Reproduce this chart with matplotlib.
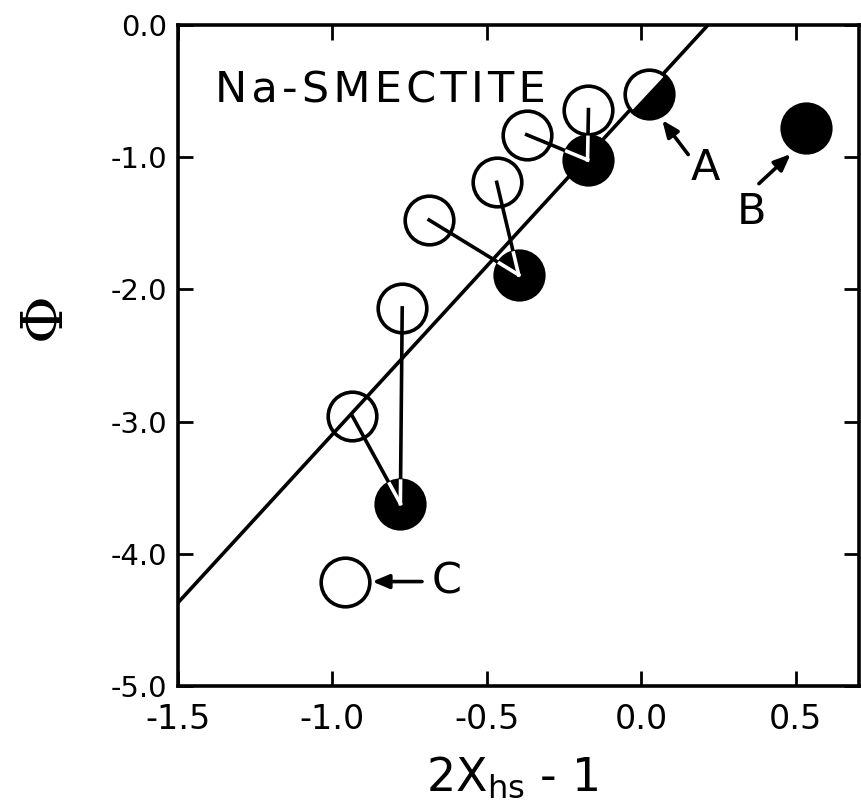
import matplotlib
matplotlib.use("Agg")
import matplotlib.pyplot as plt
from matplotlib.patches import Circle
from matplotlib.markers import MarkerStyle
from matplotlib.transforms import Affine2D, ScaledTranslation

plt.rcParams['axes.unicode_minus'] = False
plt.rcParams['font.family'] = 'DejaVu Sans'

# open circles (calculated), filled circles (measured)
open_x = [-0.774, -0.935, -0.687, -0.468, -0.371, -0.171, -0.958]
open_y = [-2.14, -2.96, -1.475, -1.19, -0.83, -0.64, -4.21]
filled_x = [-0.78, -0.397, -0.174, 0.532]
filled_y = [-3.62, -1.89, -1.02, -0.78]
# which filled circle each open circle points to (None = no link)
links = [0, 0, 1, 1, 2, 2, None]
# half filled point A
half_x = [0.026]
half_y = [-0.52]
# fitted line
line_x = [-1.5, 0.216]
line_y = [-4.37, 0.0]

xticks = [-1.5, -1.0, -0.5, 0.0, 0.5]
yticks = [0.0, -1.0, -2.0, -3.0, -4.0, -5.0]

fig = plt.figure(figsize=(8.62, 8.10), dpi=100)
ax = fig.add_axes([178/862, 1 - 686/810, 681/862, 661/810])
ax.set_xlim(-1.5, 0.705)
ax.set_ylim(-5.0, 0.0)
ax.set_autoscale_on(False)

ms = 35  # marker diameter in points
rad = ms / 2 / 72  # radius in inches
lw = 2.6

ax.plot(line_x, line_y, color='k', lw=lw, zorder=1)

for i, j in enumerate(links):
    if j is None:
        continue
    ax.plot([open_x[i], filled_x[j]], [open_y[i], filled_y[j]], color='k', lw=lw, zorder=1)

ax.plot(open_x, open_y, 'o', ms=ms, mfc='none', mec='k', mew=lw, zorder=2)
ax.plot(filled_x, filled_y, 'o', ms=ms, mfc='k', mec='k', mew=lw, zorder=2)

# white part of the link inside the filled circle
for i, j in enumerate(links):
    if j is None:
        continue
    clip = Circle((0, 0), rad, transform=fig.dpi_scale_trans +
                  ScaledTranslation(filled_x[j], filled_y[j], ax.transData))
    wl, = ax.plot([open_x[i], filled_x[j]], [open_y[i], filled_y[j]], color='white', lw=lw, zorder=3)
    wl.set_clip_path(clip)

half = MarkerStyle('o', fillstyle='bottom', transform=Affine2D().rotate_deg(47))
ax.plot(half_x, half_y, marker=half, ls='none', ms=ms, mfc='k', mfcalt='white', mec='k', mew=lw, zorder=2)

hs = '\u200a'
ax.text(-1.381, -0.59, hs.join('Na-SMECTITE'), fontsize=31, ha='left', va='baseline')

arrow = dict(arrowstyle='-|>,head_length=1.0,head_width=0.42', lw=lw, color='k', shrinkA=0, shrinkB=0)
ax.text(0.206, -1.08, 'A', fontsize=31, ha='center', va='center')
ax.annotate('', xy=(0.068, -0.72), xytext=(0.152, -0.98), arrowprops=arrow)
ax.text(0.358, -1.415, 'B', fontsize=31, ha='center', va='center')
ax.annotate('', xy=(0.484, -0.976), xytext=(0.381, -1.20), arrowprops=arrow)
ax.text(-0.629, -4.21, 'C', fontsize=31, ha='center', va='center')
ax.annotate('', xy=(-0.871, -4.21), xytext=(-0.71, -4.21), arrowprops=arrow)

ax.set_xticks(xticks)
ax.set_xticklabels(['%.1f' % v for v in xticks], fontsize=24)
ax.set_yticks(yticks)
ax.set_yticklabels(['%.1f' % v for v in yticks], fontsize=21)
ax.tick_params(direction='in', length=11, width=2, top=True, right=True, pad=8)
ax.tick_params(axis='x', pad=12)
for s in ax.spines.values():
    s.set_linewidth(lw)

fig.text(0.594, 0.024, '2X$_{\\mathregular{hs}}$ - 1', fontsize=33, ha='center', va='baseline')
fig.text(44/862, 1 - 316/810, '\u03a6', fontsize=42, family='DejaVu Serif', rotation=90,
         ha='center', va='center')

fig.savefig('out.png', dpi=100)
